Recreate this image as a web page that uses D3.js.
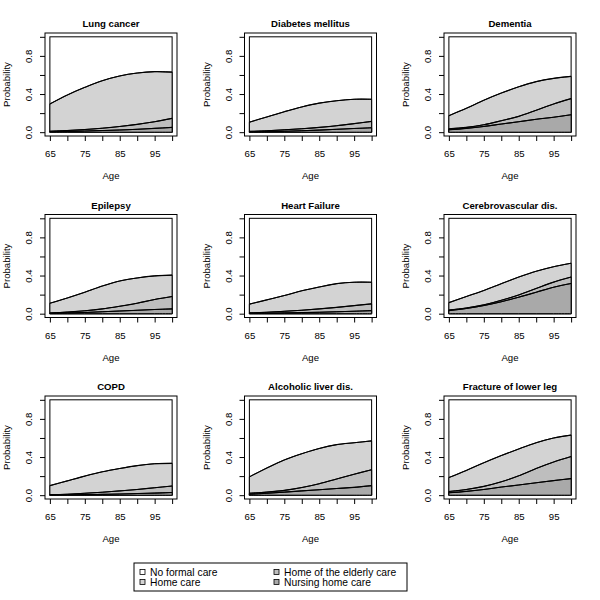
<!DOCTYPE html>
<html><head><meta charset="utf-8">
<script src="https://cdn.jsdelivr.net/npm/d3@7"></script>
<style>body{margin:0;background:#fff}svg{display:block;font-family:"Liberation Sans",Arial,Helvetica,sans-serif}</style>
</head><body><svg id="c" width="600" height="600"></svg>
<script>
const ages = [65,70,75,80,85,90,95,100];
const diagnoses = ["Lung cancer","Diabetes mellitus","Dementia","Epilepsy","Heart Failure","Cerebrovascular dis.","COPD","Alcoholic liver dis.","Fracture of lower leg"];
// probability of each care type per diagnosis, by age
const nursingHome = [
  [.005,.008,.012,.017,.023,.030,.040,.050],
  [.003,.006,.010,.015,.022,.030,.039,.046],
  [.025,.040,.060,.085,.110,.135,.157,.183],
  [.004,.008,.013,.020,.028,.036,.044,.050],
  [.003,.005,.008,.011,.015,.020,.026,.032],
  [.032,.055,.085,.125,.173,.225,.278,.317],
  [.002,.004,.006,.009,.012,.017,.022,.028],
  [.010,.020,.032,.045,.057,.070,.082,.100],
  [.025,.040,.060,.085,.107,.130,.153,.174]
];
const elderlyHome = [
  [.005,.010,.016,.025,.037,.052,.070,.095],
  [.005,.009,.015,.021,.028,.038,.051,.067],
  [.010,.010,.018,.035,.056,.095,.139,.169],
  [.003,.009,.017,.030,.050,.074,.105,.130],
  [.005,.010,.017,.025,.035,.046,.059,.071],
  [.007,.005,.007,.015,.024,.040,.053,.067],
  [.003,.006,.014,.022,.033,.043,.056,.068],
  [.011,.012,.018,.035,.063,.100,.138,.167],
  [.014,.020,.032,.055,.096,.150,.195,.231]
];
const homeCare = [
  [.286,.372,.442,.498,.530,.538,.525,.485],
  [.097,.145,.190,.229,.255,.262,.255,.232],
  [.138,.200,.257,.290,.310,.300,.268,.233],
  [.103,.148,.195,.240,.265,.265,.247,.224],
  [.092,.130,.165,.204,.230,.249,.245,.227],
  [.077,.120,.151,.175,.187,.180,.162,.145],
  [.095,.140,.180,.214,.235,.250,.252,.238],
  [.171,.253,.320,.355,.370,.360,.330,.302],
  [.146,.200,.248,.275,.282,.270,.252,.225]
];
const xTicks = [65,70,75,80,85,90,95,100];
const xLabels = [65,75,85,95];
const yTicks = [0,0.2,0.4,0.6,0.8,1.0];
const yLabels = [0,0.4,0.8];
const legendLabels = ["No formal care","Home care","Home of the elderly care","Nursing home care"];
const legendColors = ["#ffffff","#d3d3d3","#bebebe","#a9a9a9"];
const layerColors = ["#a9a9a9","#bebebe","#d3d3d3"]; // nursing, elderly, home care

const svg = d3.select("#c");
const boxW = 132, boxH = 103;
const fs = 9.6;
const curve = d3.curveCatmullRom.alpha(0.5);

diagnoses.forEach((name, i) => {
  const col = i % 3, row = Math.floor(i / 3);
  const L = 45 + col * 199.5, T = 33 + row * 181.5;
  const g = svg.append("g");
  const x = d3.scaleLinear().domain([65 - 1.4, 100 + 1.4]).range([L, L + boxW]);
  const y = d3.scaleLinear().domain([-0.04, 1.04]).range([T + boxH, T]);

  // white "no formal care" region up to 1
  g.append("rect").attr("x", x(65)).attr("y", y(1)).attr("width", x(100) - x(65)).attr("height", y(0) - y(1))
    .attr("fill", "#fff").attr("stroke", "#000").attr("stroke-width", 1);

  const rows = ages.map((a, k) => ({age: a, nursing: nursingHome[i][k], elderly: elderlyHome[i][k], home: homeCare[i][k]}));
  const series = d3.stack().keys(["nursing","elderly","home"])(rows);
  const line = d3.line().x(d => x(d.data.age)).y(d => y(d[1])).curve(curve);
  const a0 = d3.area().x(d => x(d.data.age)).y0(y(0)).y1(d => y(d[1])).curve(curve);
  for (let s = series.length - 1; s >= 0; s--) {
    g.append("path").attr("d", a0(series[s])).attr("fill", layerColors[s]).attr("stroke", "#000").attr("stroke-width", 1);
  }
  series.forEach(s => {
    g.append("path").attr("d", line(s)).attr("fill", "none").attr("stroke", "#000").attr("stroke-width", 1.1);
  });

  // outer box
  g.append("rect").attr("x", L).attr("y", T).attr("width", boxW).attr("height", boxH)
    .attr("fill", "none").attr("stroke", "#000").attr("stroke-width", 1);

  // x axis
  const xa = g.append("g").attr("transform", `translate(0,${T + boxH})`)
    .call(d3.axisBottom(x).tickValues(xTicks).tickSize(5).tickFormat(d => xLabels.includes(d) ? d : ""));
  xa.select(".domain").remove();
  xa.selectAll("line").attr("stroke", "#000");
  xa.selectAll("text").attr("font-size", fs).attr("font-family", "Liberation Sans, Arial, sans-serif").attr("fill", "#000").attr("dy", "0").attr("y", 21);

  // y axis
  const ya = g.append("g").attr("transform", `translate(${L},0)`)
    .call(d3.axisLeft(y).tickValues(yTicks).tickSize(5).tickFormat(d => yLabels.some(v => Math.abs(v - d) < 1e-9) ? d3.format(".1f")(d) : ""));
  ya.select(".domain").remove();
  ya.selectAll("line").attr("stroke", "#000");
  ya.selectAll("text").attr("font-size", fs).attr("font-family", "Liberation Sans, Arial, sans-serif").attr("fill", "#000")
    .attr("x", 0).attr("dy", "0").attr("text-anchor", "middle")
    .attr("transform", "translate(-13,0) rotate(-90)");

  // labels
  g.append("text").attr("x", L + boxW / 2).attr("y", T - 6).attr("text-anchor", "middle")
    .attr("font-size", fs).attr("font-weight", "bold").text(name);
  g.append("text").attr("x", x(82.5)).attr("y", T + boxH + 43).attr("text-anchor", "middle")
    .attr("font-size", fs).text("Age");
  g.append("text").attr("transform", `translate(${L - 35},${y(0.5)}) rotate(-90)`).attr("text-anchor", "middle")
    .attr("font-size", fs).text("Probability");
});

// legend
const lg = svg.append("g");
lg.append("rect").attr("x", 134).attr("y", 563).attr("width", 273).attr("height", 28)
  .attr("fill", "#fff").attr("stroke", "#000").attr("stroke-width", 1);
legendLabels.forEach((lab, k) => {
  const cx = k < 2 ? 140 : 274, by = 575.5 + (k % 2) * 10;
  lg.append("rect").attr("x", cx).attr("y", by - 6).attr("width", 5).attr("height", 5)
    .attr("fill", legendColors[k]).attr("stroke", "#000").attr("stroke-width", 0.8);
  lg.append("text").attr("x", cx + 10).attr("y", by).attr("font-size", 10.3).text(lab);
});
</script></body></html>
